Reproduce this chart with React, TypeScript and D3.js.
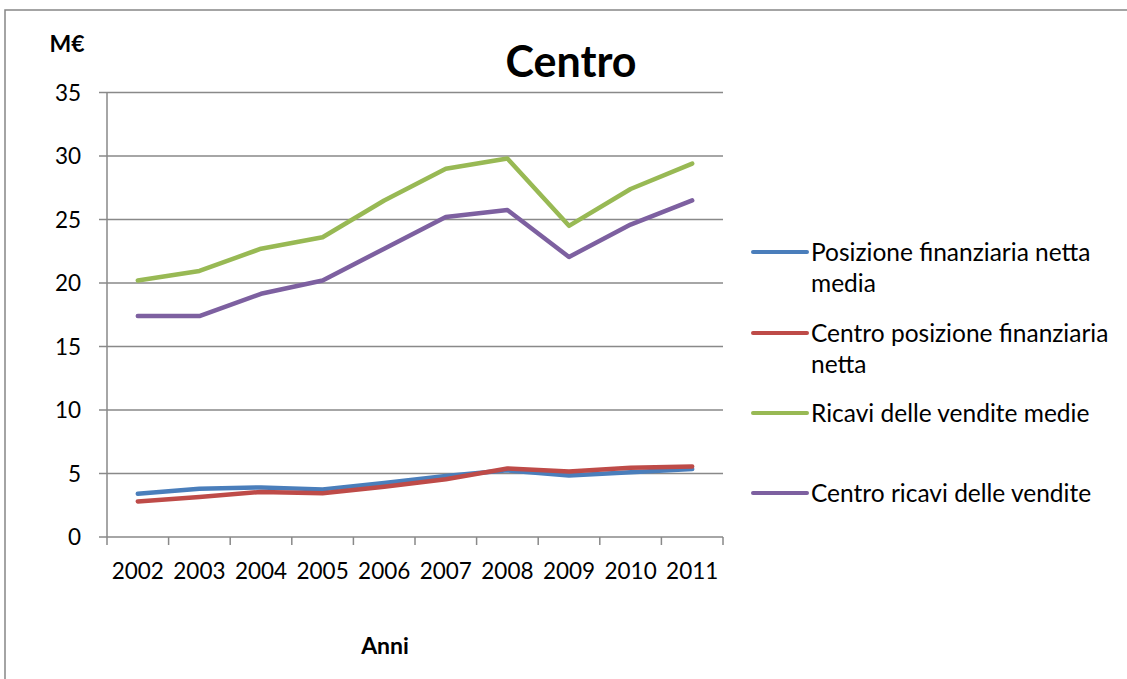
import React from "react";
import * as d3 from "d3";

const years = ["2002", "2003", "2004", "2005", "2006", "2007", "2008", "2009", "2010", "2011"];
const posizioneMedia = [3.4, 3.8, 3.9, 3.75, 4.25, 4.8, 5.25, 4.85, 5.1, 5.35];
const centroPosizione = [2.8, 3.15, 3.55, 3.45, 3.95, 4.55, 5.4, 5.15, 5.45, 5.55];
const ricaviMedie = [20.2, 20.95, 22.7, 23.6, 26.5, 29.0, 29.8, 24.5, 27.4, 29.4];
const centroRicavi = [17.4, 17.4, 19.15, 20.2, 22.7, 25.2, 25.75, 22.05, 24.6, 26.5];
const yTicks = [0, 5, 10, 15, 20, 25, 30, 35];

const seriesList = [
  { name: ["Posizione finanziaria netta", "media"], values: posizioneMedia, color: "#4A7EBB", legendY: 252 },
  { name: ["Centro posizione finanziaria", "netta"], values: centroPosizione, color: "#BE4B48", legendY: 333 },
  { name: ["Ricavi delle vendite medie"], values: ricaviMedie, color: "#98B954", legendY: 413 },
  { name: ["Centro ricavi delle vendite"], values: centroRicavi, color: "#7D60A0", legendY: 493 },
];

const FONT = "Lato, 'Open Sans', sans-serif";

export default function App() {
  const W = 1127, H = 679;
  const left = 107, right = 723, top = 92.5, bottom = 537;
  const x = d3.scaleBand<string>().domain(years).range([left, right]);
  const y = d3.scaleLinear().domain([0, 35]).range([bottom, top]);
  const cx = (c: string) => (x(c) as number) + x.bandwidth() / 2;
  const line = d3
    .line<number>()
    .x((_, i) => cx(years[i]))
    .y((d) => y(d));
  const grid = "#898989";
  const boundaries = years.map((c) => x(c) as number).concat([right]);

  return (
    <svg width={W} height={H} style={{ position: "absolute", left: 0, top: 0, background: "#fff" }} fontFamily={FONT}>
      <rect x={5} y={10} width={W + 10} height={H + 10} fill="#fff" stroke="#868686" strokeWidth={1.5} />
      {yTicks.map((t) => (
        <g key={t}>
          {t > 0 && <line x1={left} x2={right} y1={y(t)} y2={y(t)} stroke={grid} strokeWidth={1.5} />}
          <line x1={left - 8} x2={left} y1={y(t)} y2={y(t)} stroke={grid} strokeWidth={1.5} />
          <text x={81} y={y(t)} dy="0.36em" textAnchor="end" fontSize={22.5} fill="#000">
            {t}
          </text>
        </g>
      ))}
      <line x1={left} x2={left} y1={top} y2={bottom} stroke={grid} strokeWidth={1.5} />
      <line x1={left} x2={right} y1={bottom} y2={bottom} stroke={grid} strokeWidth={1.5} />
      {boundaries.map((b, i) => (
        <line key={i} x1={b} x2={b} y1={bottom} y2={bottom + 8} stroke={grid} strokeWidth={1.5} />
      ))}
      {years.map((c) => (
        <text key={c} x={cx(c)} y={571} dy="0.36em" textAnchor="middle" fontSize={22.5} fill="#000">
          {c}
        </text>
      ))}
      {seriesList.map((s) => (
        <path
          key={s.color}
          d={line(s.values) || ""}
          fill="none"
          stroke={s.color}
          strokeWidth={4.5}
          strokeLinecap="round"
          strokeLinejoin="round"
        />
      ))}
      {seriesList.map((s) => (
        <g key={"l" + s.color}>
          <line x1={753} x2={807} y1={s.legendY} y2={s.legendY} stroke={s.color} strokeWidth={4} strokeLinecap="round" />
          {s.name.map((n, j) => (
            <text key={j} x={811} y={s.legendY + j * 31.5} dy="0.36em" fontSize={24.5} fill="#000">
              {n}
            </text>
          ))}
        </g>
      ))}
      <text x={571} y={62} dy="0.36em" textAnchor="middle" fontSize={43} fontWeight="bold" fill="#000">
        Centro
      </text>
      <text x={67} y={44} dy="0.36em" textAnchor="middle" fontSize={23} fontWeight="bold" fill="#000">
        M€
      </text>
      <text x={385} y={646} dy="0.36em" textAnchor="middle" fontSize={23} fontWeight="bold" fill="#000">
        Anni
      </text>
    </svg>
  );
}
